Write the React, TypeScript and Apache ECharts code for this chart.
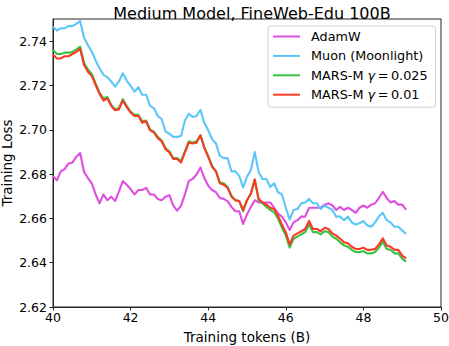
import React, { useEffect, useRef } from "react";
import * as echarts from "echarts";

const X_START = 40;
const X_STEP = 0.1;

const seriesNames = ["AdamW", "Muon (Moonlight)", "MARS-M γ = 0.025", "MARS-M γ = 0.01"];
const seriesColors = ["#df4fdf", "#5bc7f8", "#37c33f", "#fb3a26"];

const adamw = [
  2.679, 2.6772, 2.6812, 2.6822, 2.6848, 2.6852, 2.6878, 2.6895, 2.681, 2.6782,
  2.6758, 2.6708, 2.6668, 2.6708, 2.6682, 2.6698, 2.6678, 2.6722, 2.6768, 2.6752,
  2.6732, 2.6708, 2.6728, 2.6728, 2.6738, 2.6708, 2.6708, 2.6688, 2.6682, 2.6698,
  2.6705, 2.6658, 2.6635, 2.6658, 2.6708, 2.6768, 2.6778, 2.6798, 2.683, 2.6782,
  2.6748, 2.6728, 2.6718, 2.6692, 2.6688, 2.6678, 2.6652, 2.6632, 2.6632, 2.6575,
  2.6618, 2.6652, 2.6682, 2.6672, 2.6672, 2.6672, 2.6672, 2.6648, 2.6622, 2.6608,
  2.6582, 2.6548, 2.6582, 2.6592, 2.6608, 2.6608, 2.6648, 2.6648, 2.6648, 2.6648,
  2.6662, 2.6668, 2.6658, 2.6638, 2.6652, 2.6638, 2.6648, 2.6638, 2.6625, 2.6648,
  2.6658, 2.6648, 2.6662, 2.6668, 2.6692, 2.672, 2.6692, 2.6672, 2.6678, 2.6662,
  2.6662, 2.6638,
];

const muon = [
  2.7465, 2.7448, 2.7458, 2.7458, 2.7468, 2.7468, 2.7478, 2.749, 2.7415, 2.7382,
  2.7352, 2.7312, 2.7278, 2.7248, 2.7238, 2.7218, 2.7195, 2.7218, 2.7255, 2.7222,
  2.7198, 2.7172, 2.7192, 2.7158, 2.7158, 2.7108, 2.7098, 2.7062, 2.7048, 2.6992,
  2.6982, 2.6968, 2.6968, 2.6972, 2.7042, 2.7072, 2.7058, 2.7062, 2.709, 2.7032,
  2.6998, 2.6958, 2.6938, 2.6882, 2.6872, 2.6872, 2.6812, 2.6812, 2.6792, 2.674,
  2.6788, 2.6818, 2.69, 2.6808, 2.6778, 2.6778, 2.6742, 2.6758, 2.6718, 2.6708,
  2.6648, 2.6595, 2.6638, 2.6642, 2.6668, 2.6672, 2.6688, 2.6668, 2.6668, 2.6642,
  2.6658, 2.6648, 2.6638, 2.6608, 2.6608, 2.6592, 2.6608, 2.6582, 2.6572, 2.6578,
  2.6588, 2.6568, 2.6562, 2.6582, 2.6608, 2.6625, 2.6592, 2.6582, 2.6562, 2.6562,
  2.6545, 2.653,
];

const marsM025 = [
  2.736, 2.7342, 2.7342, 2.7348, 2.7348, 2.7352, 2.7362, 2.7375, 2.7302, 2.7272,
  2.7252, 2.7208, 2.7168, 2.7142, 2.7148, 2.7112, 2.7092, 2.7098, 2.7138, 2.7108,
  2.7082, 2.7068, 2.7068, 2.7038, 2.7042, 2.7002, 2.6992, 2.6968, 2.6952, 2.6918,
  2.6902, 2.6872, 2.6872, 2.6858, 2.6902, 2.6948, 2.6942, 2.6948, 2.6975, 2.6922,
  2.6882, 2.6838, 2.6812, 2.6762, 2.6758, 2.6742, 2.6702, 2.6682, 2.6678, 2.6632,
  2.6682, 2.6712, 2.6775, 2.6682, 2.6668, 2.6652, 2.6638, 2.6628, 2.6598, 2.6558,
  2.6522, 2.6468, 2.6508, 2.6518, 2.6528, 2.6538, 2.6572, 2.6538, 2.6538, 2.6528,
  2.6542, 2.6538, 2.6518, 2.6508, 2.6492, 2.6478, 2.6472, 2.6458, 2.6448, 2.6448,
  2.6452, 2.6442, 2.6442, 2.6448, 2.6468, 2.6495, 2.6462, 2.6458, 2.6442, 2.6442,
  2.6418, 2.6405,
];

const marsM01 = [
  2.734, 2.7322, 2.7322, 2.7332, 2.7332, 2.7342, 2.7352, 2.7365, 2.7292, 2.7262,
  2.7242, 2.7202, 2.7162, 2.7132, 2.7142, 2.7108, 2.7088, 2.7092, 2.7132, 2.7102,
  2.7078, 2.7062, 2.7062, 2.7032, 2.7038, 2.6998, 2.6988, 2.6962, 2.6948, 2.6912,
  2.6898, 2.6868, 2.6868, 2.6852, 2.6898, 2.6942, 2.6938, 2.6942, 2.6975, 2.6918,
  2.6878, 2.6832, 2.6812, 2.6758, 2.6752, 2.6738, 2.6698, 2.6682, 2.6678, 2.6638,
  2.6682, 2.6712, 2.6775, 2.6688, 2.6672, 2.6662, 2.6648, 2.6642, 2.6612, 2.6572,
  2.6538, 2.6482, 2.6522, 2.6532, 2.6542, 2.6552, 2.6588, 2.6552, 2.6552, 2.6542,
  2.6558, 2.6552, 2.6532, 2.6522, 2.6508, 2.6492, 2.6488, 2.6472, 2.6462, 2.6462,
  2.6468, 2.6458, 2.6458, 2.6462, 2.6482, 2.651, 2.6478, 2.6472, 2.6458, 2.6458,
  2.6432, 2.642,
];

const allValues = [adamw, muon, marsM025, marsM01];

const FONT = "DejaVu Sans";
const THIN = "\u2009";

export default function App() {
  const ref = useRef<HTMLDivElement>(null);
  useEffect(() => {
    if (!ref.current) return;
    const chart = echarts.init(ref.current, undefined, { renderer: "svg" });
    const series = allValues.map((vals, k) => ({
      name: seriesNames[k],
      type: "line",
      showSymbol: false,
      symbol: "none",
      data: vals.map((v, i) => [+(X_START + i * X_STEP).toFixed(2), v]),
      lineStyle: { color: seriesColors[k], width: 2.1, join: "round" },
      itemStyle: { color: seriesColors[k] },
      z: 2 + k,
    }));
    chart.setOption({
      animation: false,
      backgroundColor: "#ffffff",
      title: {
        text: "Medium Model, FineWeb-Edu 100B",
        left: 247,
        textAlign: "center",
        top: 0,
        textStyle: { fontFamily: FONT, fontSize: 16, fontWeight: "normal", color: "#000" },
      },
      grid: {
        left: 53,
        right: 8,
        top: 19,
        bottom: 39,
        show: true,
        borderColor: "#262626",
        borderWidth: 1,
        containLabel: false,
        outerBoundsMode: "none",
      },
      legend: {
        orient: "vertical",
        left: 268,
        top: 26,
        icon: "rect",
        itemWidth: 27,
        itemHeight: 2,
        itemGap: 4.4,
        padding: [3, 8, 5, 5],
        borderColor: "#d0d0d0",
        borderWidth: 1,
        borderRadius: 3,
        backgroundColor: "rgba(255,255,255,0.85)",
        data: seriesNames,
        formatter: (name: string) => {
          if (name.startsWith("MARS-M")) {
            return "MARS-M {i|γ}" + THIN + "=" + THIN + name.split("= ")[1];
          }
          return name;
        },
        textStyle: {
          fontFamily: FONT,
          fontSize: 12.8,
          color: "#000",
          lineHeight: 15,
          padding: [0, 0, 0, 6],
          rich: {
            i: { fontFamily: FONT, fontSize: 12.8, fontStyle: "italic", color: "#000" },
          },
        },
      },
      xAxis: {
        type: "value",
        min: 40,
        max: 50,
        interval: 2,
        name: "Training tokens (B)",
        nameLocation: "middle",
        nameGap: 23,
        nameMoveOverlap: false,
        nameTextStyle: { fontFamily: FONT, fontSize: 13.5, color: "#000" },
        axisLine: { show: true, lineStyle: { color: "#262626", width: 1 } },
        axisTick: { show: true, length: 3.5, lineStyle: { color: "#262626" } },
        axisLabel: { fontFamily: FONT, fontSize: 12.5, color: "#000", margin: 4 },
        splitLine: { show: false },
      },
      yAxis: {
        type: "value",
        min: 2.62,
        max: 2.75,
        interval: 0.02,
        name: "Training Loss",
        nameLocation: "middle",
        nameGap: 39,
        nameMoveOverlap: false,
        nameTextStyle: { fontFamily: FONT, fontSize: 13.5, color: "#000" },
        axisLine: { show: true, lineStyle: { color: "#262626", width: 1 } },
        axisTick: { show: true, length: 3.5, lineStyle: { color: "#262626" } },
        axisLabel: {
          fontFamily: FONT,
          fontSize: 12.5,
          color: "#000",
          margin: 6,
          showMaxLabel: false,
          formatter: (v: number) => v.toFixed(2),
        },
        splitLine: { show: false },
      },
      series,
    });
    return () => chart.dispose();
  }, []);
  return <div ref={ref} style={{ width: 449, height: 346, position: "absolute", left: 0, top: 0 }} />;
}
